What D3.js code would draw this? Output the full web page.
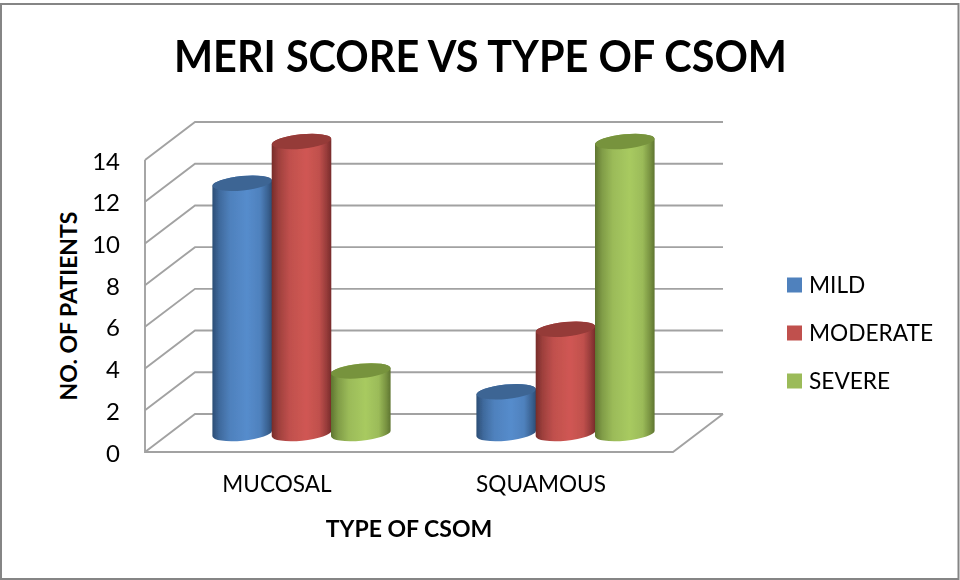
<!DOCTYPE html>
<html><head><meta charset="utf-8">
<script src="https://cdn.jsdelivr.net/npm/d3@7/dist/d3.min.js"></script>
<style>html,body{margin:0;padding:0;background:#fff}svg{display:block}text{font-family:Lato,"Open Sans",sans-serif;fill:#000}</style>
</head><body><svg id="c" width="960" height="580"></svg>
<script>
const title = "MERI SCORE VS TYPE OF CSOM";
const xTitle = "TYPE OF CSOM";
const yTitle = "NO. OF PATIENTS";
const categories = ["MUCOSAL", "SQUAMOUS"];
const seriesNames = ["MILD", "MODERATE", "SEVERE"];
const mild = [12, 2];
const moderate = [14, 5];
const severe = [3, 14];
const yTicks = [0, 2, 4, 6, 8, 10, 12, 14];
const colors = {MILD:["#4f81bd","#2c4d75","#3d6594"], MODERATE:["#c0504d","#772c2a","#953a38"], SEVERE:["#9bbb59","#5f7530","#77933c"]};
const values = {MILD:mild, MODERATE:moderate, SEVERE:severe};

const svg = d3.select("#c");
const depthX = 50, depthY = -38;
const x0 = 145, x1 = 673, yBase = 452, yTop = 160;
const yFront = d3.scaleLinear().domain([0,14]).range([yBase,yTop]);
const xBand = d3.scaleBand().domain(categories).range([x0,x1]);
const xBars = d3.scaleBand().domain(categories).range([x0+24.5,x1+24.5]);
const xSeries = d3.scaleBand().domain(seriesNames).range([0,xBars.bandwidth()]).paddingOuter(0.726).paddingInner(0);
const yBar = d3.scaleLinear().domain([0,14]).range([433.5,141.5]);

svg.append("rect").attr("x",1).attr("y",4).attr("width",957.5).attr("height",575)
  .attr("fill","#fff").attr("stroke","#858585").attr("stroke-width",2);

const defs = svg.append("defs");
seriesNames.forEach(n=>{
  const [c,d] = colors[n];
  const g = defs.append("linearGradient").attr("id","g-"+n);
  [[0,d],[.12,d3.interpolateRgb(d,c)(.55)],[.3,c],[.58,d3.rgb(c).brighter(.22)],[.8,c],[.93,d3.interpolateRgb(d,c)(.4)],[1,d]]
    .forEach(([o,col])=>g.append("stop").attr("offset",o).attr("stop-color",col));
});
const blur = defs.append("filter").attr("id","soft").attr("x","-5%").attr("y","-5%").attr("width","110%").attr("height","110%");
blur.append("feGaussianBlur").attr("stdDeviation",0.45);

const grid = svg.append("g").attr("fill","none").attr("stroke","#a2a2a2").attr("stroke-width",1.9).attr("filter","url(#soft)");
yTicks.forEach(t=>{
  const y=yFront(t);
  grid.append("path").attr("d",`M${x0},${y}L${x0+depthX},${y+depthY}L${x1+depthX},${y+depthY}`);
});
grid.append("path").attr("d",`M${x0},${yTop}V${yBase}H${x1}L${x1+depthX},${yBase+depthY}`);

const cyl = svg.append("g").attr("filter","url(#soft)");
const rx = 29.8, ry = 7.2, tilt = -5.5;
function ellipsePt(cx,cy,a){
  const r=tilt*Math.PI/180, ex=rx*Math.cos(a), ey=ry*Math.sin(a);
  return [cx+ex*Math.cos(r)-ey*Math.sin(r), cy+ex*Math.sin(r)+ey*Math.cos(r)];
}
categories.forEach((cat,i)=>{
  seriesNames.forEach(n=>{
    const v = values[n][i];
    const cx = xBars(cat)+xSeries(n)+xSeries.bandwidth()/2;
    const yb = yBar(0), yt = yBar(v);
    const L = cx-rx, R = cx+rx;
    const dyL = ellipsePt(cx,0,Math.PI)[1], dyR = ellipsePt(cx,0,0)[1];
    cyl.append("path").attr("fill",`url(#g-${n})`)
      .attr("d",`M${L},${yt+dyL}L${L},${yb+dyL}A${rx},${ry} ${tilt} 0 0 ${R},${yb+dyR}L${R},${yt+dyR}A${rx},${ry} ${tilt} 0 0 ${L},${yt+dyL}Z`);
    cyl.append("ellipse").attr("cx",cx).attr("cy",yt).attr("rx",rx).attr("ry",ry)
      .attr("transform",`rotate(${tilt} ${cx} ${yt})`).attr("fill",colors[n][2]);
  });
});

const yLab = svg.append("g").attr("font-size",24).attr("text-anchor","end");
yTicks.forEach(t=>yLab.append("text").attr("x",120).attr("y",yFront(t)+9.5).text(t));
const xLab = svg.append("g").attr("font-size",22.6).attr("text-anchor","middle");
categories.forEach(c=>xLab.append("text").attr("x",xBand(c)+xBand.bandwidth()/2).attr("y",492).text(c));

svg.append("text").attr("x",480.5).attr("y",72).attr("text-anchor","middle").attr("font-size",44)
  .attr("font-weight",700).attr("textLength",613).attr("lengthAdjust","spacingAndGlyphs").text(title);
svg.append("text").attr("x",409).attr("y",537).attr("text-anchor","middle").attr("font-size",23).attr("font-weight",700).text(xTitle);
svg.append("text").attr("transform","translate(76.5,306) rotate(-90)").attr("text-anchor","middle").attr("font-size",23).attr("font-weight",700).text(yTitle);

const legY = d3.scalePoint().domain(seriesNames).range([285,381]);
const leg = svg.append("g");
seriesNames.forEach(n=>{
  leg.append("rect").attr("x",787).attr("y",legY(n)-7.5).attr("width",15).attr("height",15).attr("fill",colors[n][0]);
  leg.append("text").attr("x",809).attr("y",legY(n)+8).attr("font-size",22.7).text(n);
});
</script></body></html>
